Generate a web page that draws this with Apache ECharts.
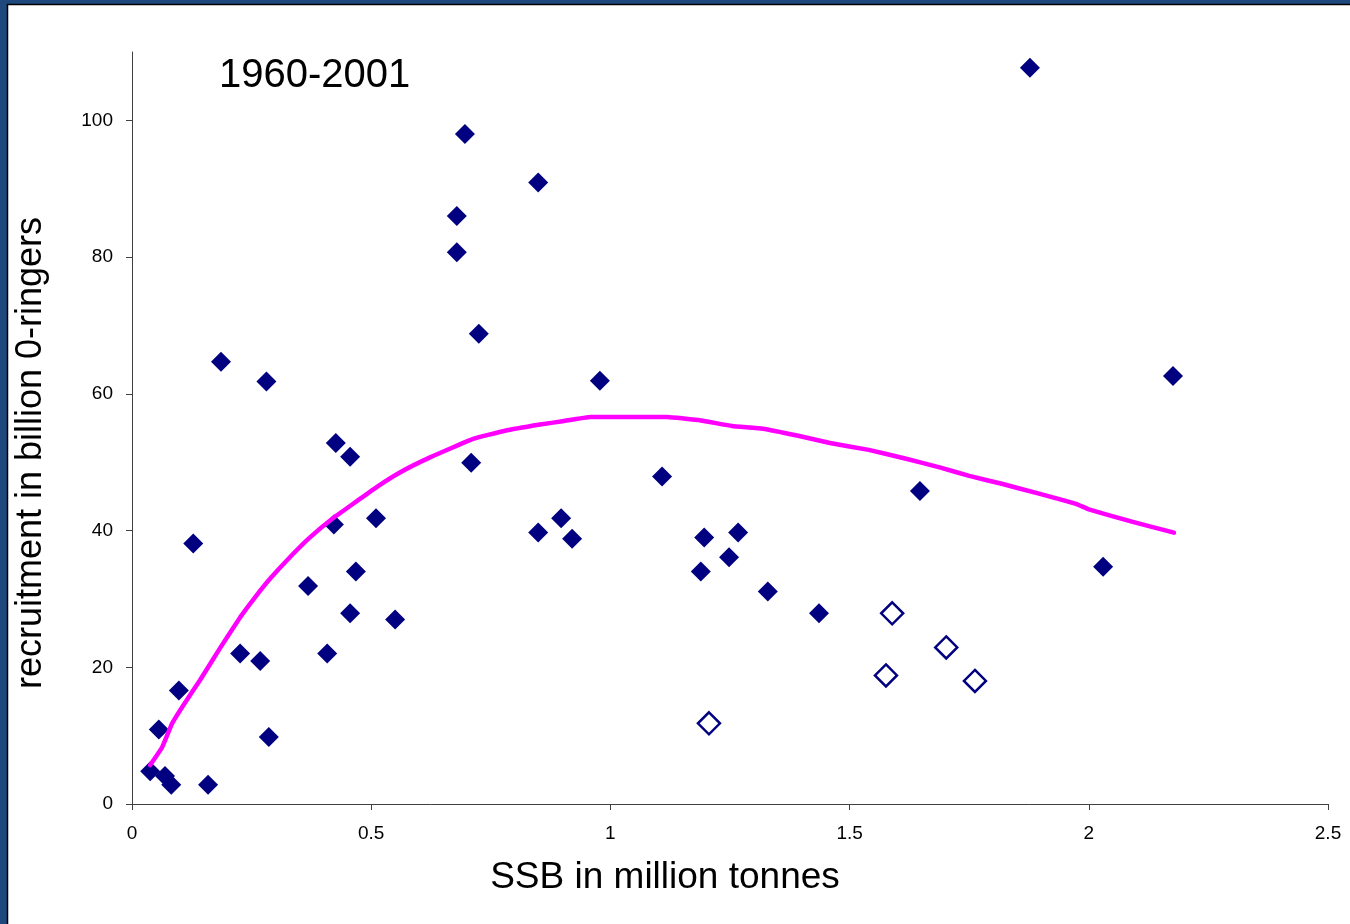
<!DOCTYPE html>
<html>
<head>
<meta charset="utf-8">
<script src="https://cdn.jsdelivr.net/npm/echarts@6/dist/echarts.min.js"></script>
<style>
html,body{margin:0;padding:0;background:#fff;}
#c{width:1350px;height:924px;}
</style>
</head>
<body>
<div id="c"></div>
<script>
const titleText = "1960-2001";
const xAxisName = "SSB in million tonnes";
const yAxisName = "recruitment in billion 0-ringers";
const xTicks = [0, 0.5, 1, 1.5, 2, 2.5];
const yTicks = [0, 20, 40, 60, 80, 100];

// Observed stock-recruitment pairs [SSB, recruitment]
const observed = [
  [0.038, 4.8], [0.056, 10.9], [0.069, 4.1], [0.082, 2.8], [0.098, 16.6],
  [0.128, 38.1], [0.159, 2.8], [0.186, 64.7], [0.226, 22.0], [0.268, 20.9],
  [0.281, 61.8], [0.286, 9.8], [0.368, 31.9], [0.408, 22.0], [0.422, 40.9],
  [0.426, 52.8], [0.456, 50.8], [0.456, 27.9], [0.468, 34.0], [0.510, 41.8],
  [0.550, 27.0], [0.679, 86.0], [0.679, 80.7], [0.696, 98.0], [0.709, 49.9],
  [0.725, 68.8], [0.849, 90.9], [0.849, 39.7], [0.897, 41.8], [0.920, 38.8],
  [0.978, 61.9], [1.108, 47.9], [1.189, 34.0], [1.196, 39.0], [1.248, 36.1],
  [1.267, 39.7], [1.329, 31.1], [1.436, 27.9], [1.647, 45.8], [1.877, 107.7],
  [2.030, 34.7], [2.176, 62.6]
];

// Hollow markers
const recent = [
  [1.206, 11.8], [1.576, 18.8], [1.589, 27.9], [1.702, 22.9], [1.762, 18.0]
];

// Fitted stock-recruitment curve
const fitted = [
  [0.038, 5.7], [0.063, 8.3], [0.084, 11.8], [0.105, 14.2], [0.142, 18.1],
  [0.184, 22.8], [0.226, 27.3], [0.258, 30.3], [0.288, 32.9], [0.330, 36.1], [0.372, 39.0],
  [0.420, 41.8], [0.470, 44.3], [0.512, 46.4], [0.560, 48.5], [0.623, 50.7],
  [0.713, 53.4], [0.780, 54.6], [0.853, 55.5], [0.900, 56.0], [0.959, 56.6],
  [1.118, 56.6], [1.189, 56.1], [1.254, 55.3], [1.319, 54.9], [1.390, 53.9],
  [1.459, 52.8], [1.540, 51.8], [1.618, 50.5], [1.690, 49.2], [1.750, 48.0],
  [1.820, 46.8], [1.890, 45.5], [1.973, 43.9], [2.000, 43.1], [2.090, 41.3],
  [2.178, 39.7]
];

const FONT = 'Arial, "Liberation Sans", sans-serif';
const chart = echarts.init(document.getElementById('c'), null, {renderer: 'canvas'});
chart.setOption({
  backgroundColor: '#ffffff',
  animation: false,
  grid: {left: 132, right: 22, top: 52, bottom: 120, containLabel: false},
  xAxis: {
    type: 'value', min: 0, max: 2.5, interval: 0.5,
    axisLine: {show: true, lineStyle: {color: '#404040', width: 1}},
    axisTick: {show: true, length: 6, lineStyle: {color: '#404040'}, customValues: xTicks},
    axisLabel: {show: true, color: '#000', fontFamily: FONT, fontSize: 19, margin: 20,
      customValues: xTicks, formatter: v => String(v)},
    splitLine: {show: false}
  },
  yAxis: {
    type: 'value', min: 0, max: 110,
    axisLine: {show: true, lineStyle: {color: '#404040', width: 1}},
    axisTick: {show: true, length: 6, lineStyle: {color: '#404040'}, customValues: yTicks},
    axisLabel: {show: true, color: '#000', fontFamily: FONT, fontSize: 19, margin: 19,
      customValues: yTicks, formatter: v => String(v)},
    splitLine: {show: false}
  },
  series: [
    {
      type: 'scatter', data: observed, symbol: 'diamond', symbolSize: 20,
      itemStyle: {color: '#000080', opacity: 1}, z: 2
    },
    {
      type: 'scatter', data: recent, symbol: 'diamond', symbolSize: 22,
      itemStyle: {color: '#ffffff', borderColor: '#000080', borderWidth: 2.5, opacity: 1}, z: 2
    },
    {
      type: 'line', data: fitted, showSymbol: false, smooth: 0.1,
      lineStyle: {color: '#ff00ff', width: 4.5, cap: 'round', join: 'round'}, z: 3
    }
  ],
  graphic: [
    {type: 'rect', left: 0, top: 0, shape: {width: 1350, height: 4}, style: {fill: '#1f497d'}, z: 10},
    {type: 'rect', left: 0, top: 0, shape: {width: 7, height: 924}, style: {fill: '#1f497d'}, z: 10},
    {type: 'line', shape: {x1: 7.5, y1: 4, x2: 7.5, y2: 924}, style: {stroke: '#000', lineWidth: 1.5}, z: 10},
    {type: 'line', shape: {x1: 7, y1: 4.5, x2: 1350, y2: 4.5}, style: {stroke: '#000', lineWidth: 1.5}, z: 10},
    {type: 'text', x: 219, y: 76, style: {text: titleText, font: '40px ' + FONT, fill: '#000',
      textAlign: 'left', textVerticalAlign: 'middle'}, z: 10},
    {type: 'text', x: 665, y: 878, style: {text: xAxisName, font: '37px ' + FONT, fill: '#000',
      textAlign: 'center', textVerticalAlign: 'middle'}, z: 10},
    {type: 'text', x: 31, y: 453, rotation: Math.PI / 2, style: {text: yAxisName, font: '36px ' + FONT, fill: '#000',
      textAlign: 'center', textVerticalAlign: 'middle'}, z: 10}
  ]
});
</script>
</body>
</html>
